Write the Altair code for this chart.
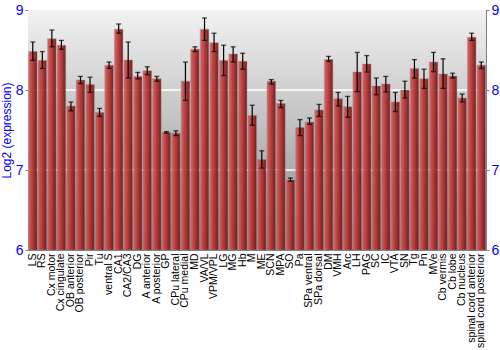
import altair as alt
import pandas as pd

regions = ["LS", "RS", "Cx motor", "Cx cingulate", "OB anterior", "OB posterior", "Pir", "Tu",
           "ventral S", "CA1", "CA2/CA3", "DG", "A anterior", "A posterior", "GP", "CPu lateral",
           "CPu medial", "MD", "VA/VL", "VPM/VPL", "LG", "MG", "Hb", "M", "ME", "SCN", "MPA", "SO",
           "Pa", "SPa ventral", "SPa dorsal", "DM", "VMH", "Arc", "LH", "PAG", "SC", "IC", "VTA",
           "SN", "Tg", "Pn", "MVe", "Cb vermis", "Cb lobe", "Cb nucleus", "spinal cord anterior",
           "spinal cord posterior"]
means = [8.48, 8.37, 8.64, 8.56, 7.80, 8.125, 8.07, 7.72,
         8.31, 8.76, 8.375, 8.17, 8.24, 8.14, 7.47, 7.46,
         8.11, 8.51, 8.76, 8.59, 8.37, 8.45, 8.36, 7.68, 7.13, 8.11, 7.83, 6.875,
         7.53, 7.60, 7.75, 8.38, 7.89, 7.79, 8.225, 8.325, 8.05, 8.075, 7.85,
         8.00, 8.27, 8.14, 8.35, 8.20, 8.175, 7.90, 8.66,
         8.31]
err_low = [8.37, 8.27, 8.54, 8.51, 7.74, 8.08, 7.97, 7.67,
           8.27, 8.71, 8.15, 8.14, 8.19, 8.11, 7.46, 7.43,
           7.87, 8.48, 8.62, 8.48, 8.18, 8.35, 8.26, 7.56, 7.025, 8.075, 7.78, 6.86,
           7.43, 7.57, 7.67, 8.36, 7.80, 7.66, 7.98, 8.225, 7.94, 7.975, 7.73,
           7.90, 8.15, 8.02, 8.23, 8.02, 8.15, 7.85, 8.62,
           8.27]
err_high = [8.60, 8.48, 8.75, 8.62, 7.85, 8.17, 8.16, 7.77,
            8.35, 8.825, 8.60, 8.22, 8.29, 8.17, 7.48, 7.49,
            8.35, 8.54, 8.90, 8.71, 8.56, 8.54, 8.46, 7.81, 7.24, 8.13, 7.87, 6.90,
            7.63, 7.65, 7.82, 8.42, 7.97, 7.92, 8.47, 8.43, 8.15, 8.17, 7.97,
            8.11, 8.38, 8.26, 8.47, 8.39, 8.21, 7.95, 8.71,
            8.35]
y_ticks = [6, 7, 8, 9]
grid_values = [7, 8]

W, H = 458, 240

df = pd.DataFrame({"region": regions, "mean": means, "lo": err_low, "hi": err_high})
grid_df = pd.DataFrame({"g": grid_values})
bg_df = pd.DataFrame({"a": [0]})

FONT = "Liberation Sans"
BLUE = "#0000ff"

xenc = alt.X("region:N", sort=regions, title=None,
             scale=alt.Scale(paddingInner=0.1, paddingOuter=0.05),
             axis=alt.Axis(labelAngle=-90, labelFontSize=10.5, labelColor="black", labelFont=FONT,
                           ticks=False, domainColor="#808080", labelPadding=3, labelAlign="right",
                           labelBaseline="middle", labelOverlap=False, labelLimit=200))
yscale = alt.Scale(domain=[6, 9], zero=False, nice=False)

bg_fill = alt.Gradient(
    gradient="linear",
    stops=[alt.GradientStop(color="#f2f2f2", offset=0),
           alt.GradientStop(color="#8a8a8a", offset=1)],
    x1=0, x2=0, y1=0, y2=1,
)
background = alt.Chart(bg_df).mark_rect(fill=bg_fill).encode(
    x=alt.value(0), x2=alt.value(W), y=alt.value(0), y2=alt.value(H)
)

grid = alt.Chart(grid_df).mark_rule(color="white", strokeWidth=1.5).encode(
    y=alt.Y("g:Q", scale=yscale, axis=None)
)

bar_fill = alt.Gradient(
    gradient="linear",
    stops=[alt.GradientStop(color="#d66060", offset=0),
           alt.GradientStop(color="#b83535", offset=0.45),
           alt.GradientStop(color="#701414", offset=1)],
    x1=0, x2=1, y1=0, y2=0,
)

bars = alt.Chart(df).mark_bar(fill=bar_fill, stroke="#909090", strokeWidth=0.6,
                              strokeOpacity=0.7, opacity=0.93).encode(
    x=xenc,
    y=alt.Y("mean:Q", scale=yscale,
            axis=alt.Axis(orient="left", values=y_ticks, title="Log2 (expression)",
                          titleColor=BLUE, titleFont=FONT, titleFontSize=12,
                          titleFontWeight="normal", titlePadding=2,
                          labelColor=BLUE, labelFont=FONT, labelFontSize=14,
                          labelPadding=2, tickSize=3, tickColor="#808080",
                          domainColor="#808080", grid=False)),
    y2=alt.datum(6),
)

err = alt.Chart(df).mark_rule(color="black", strokeWidth=1.2).encode(
    x=xenc,
    y=alt.Y("lo:Q", scale=yscale,
            axis=alt.Axis(orient="right", values=y_ticks, title=None,
                          labelColor=BLUE, labelFont=FONT, labelFontSize=14,
                          labelPadding=2, tickSize=3, tickColor="#808080",
                          domainColor="#808080", grid=False)),
    y2="hi:Q",
)
cap_lo = alt.Chart(df).mark_tick(color="black", size=5, thickness=1.3).encode(
    x=xenc, y=alt.Y("lo:Q", scale=yscale, axis=None))
cap_hi = alt.Chart(df).mark_tick(color="black", size=5, thickness=1.3).encode(
    x=xenc, y=alt.Y("hi:Q", scale=yscale, axis=None))

chart = (
    alt.layer(background, grid, bars, err, cap_lo, cap_hi)
    .resolve_axis(y="independent")
    .properties(width=W, height=H,
                autosize=alt.AutoSizeParams(type="none"),
                padding={"left": 28, "top": 10, "right": 14, "bottom": 100})
    .configure_view(stroke="#808080")
    .configure(background="white")
)

chart.save("out.html", embed_options={"renderer": "svg", "actions": False})
